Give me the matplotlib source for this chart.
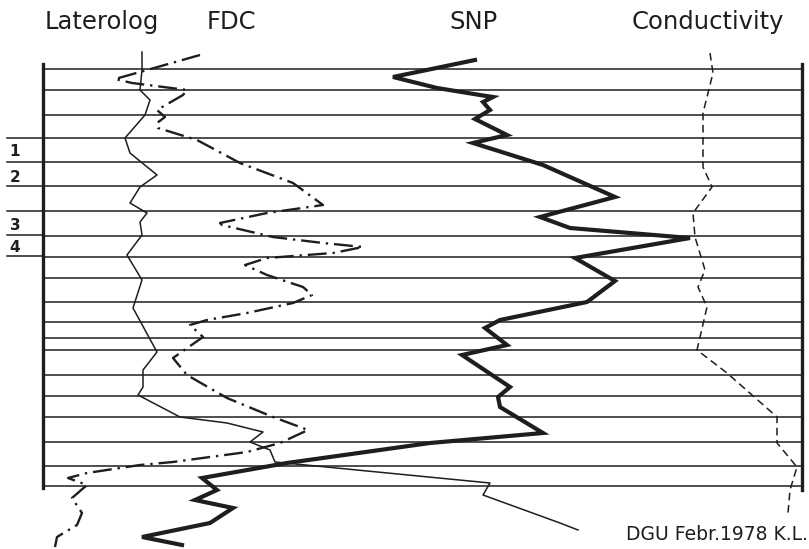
import matplotlib.pyplot as plt

# Well-log sketch, DGU 1978. Depth runs downwards (image-like units),
# readings are horizontal positions on the common chart frame.

# horizontal reference lines (depth)
grid_depths = [69, 90, 115, 138, 162, 186, 211, 236, 257, 278,
               302, 322, 338, 350, 375, 396, 417, 442, 466, 486]
marked_depths = [138, 162, 186, 211, 235, 256]
zone_labels = ["1", "2", "3", "4"]
zone_label_depths = [152, 177, 226, 247]

# Laterolog (thin solid)
lat_depth = [52, 70, 90, 100, 115, 138, 153, 175, 187, 203, 213, 222, 235,
             255, 280, 308, 352, 370, 387, 395, 417, 423, 432, 442, 450,
             462, 483, 495, 523, 530]
lat_value = [142, 142, 140, 150, 145, 125, 130, 157, 140, 130, 147, 140, 142,
             127, 142, 133, 157, 143, 143, 138, 180, 227, 263, 250, 270,
             275, 490, 483, 560, 578]

# FDC (dash-dot)
fdc_depth = [55, 72, 79, 83, 90, 95, 110, 117, 123, 128, 140, 163, 183, 205,
             213, 223, 225, 237, 243, 247, 253, 258, 265, 275, 287, 295, 303,
             313, 320, 325, 337, 358, 375, 398, 417, 430, 443, 452, 462, 465,
             473, 478, 485, 498, 513, 525, 537, 547]
fdc_value = [200, 140, 115, 132, 187, 183, 157, 165, 157, 158, 197, 240, 293,
             323, 267, 220, 222, 273, 323, 363, 333, 267, 245, 267, 303, 312,
             293, 247, 207, 190, 203, 173, 187, 227, 273, 308, 280, 247, 173,
             140, 87, 68, 87, 72, 82, 77, 57, 55]

# SNP (thick solid)
snp_depth = [60, 77, 88, 95, 97, 102, 110, 119, 135, 143, 165, 197, 217, 228,
             238, 258, 281, 302, 320, 328, 345, 355, 387, 397, 407, 433, 443,
             463, 478, 490, 500, 508, 523, 537, 545]
snp_value = [475, 393, 437, 480, 493, 483, 490, 475, 507, 473, 543, 615, 540,
             570, 690, 575, 615, 587, 500, 485, 507, 462, 510, 498, 500, 543,
             430, 287, 202, 217, 195, 233, 210, 142, 182]

# Conductivity (dashed)
con_depth = [53, 73, 113, 167, 187, 213, 237, 270, 287, 307, 350, 373, 417,
             443, 467, 490, 513]
con_value = [710, 713, 703, 703, 712, 693, 695, 705, 698, 707, 697, 727, 777,
             777, 797, 790, 788]

titles = ["Laterolog", "FDC", "SNP", "Conductivity"]
title_pos = [102, 231, 474, 708]

ink = "#1e1e1e"

fig = plt.figure(figsize=(8.09, 5.49), dpi=100)
ax = fig.add_axes([0, 0, 1, 1])
ax.set_xlim(0, 809)
ax.set_ylim(549, 0)
ax.axis("off")

# chart frame and reference lines
for d in grid_depths:
    ax.plot([43, 802], [d, d], color=ink, lw=1.1, solid_capstyle="butt")
for d in marked_depths:
    ax.plot([7, 43], [d, d], color=ink, lw=1.1)
ax.plot([43, 43], [64, 488], color=ink, lw=2.4)
ax.plot([802, 802], [64, 490], color=ink, lw=2.4)

for lab, d in zip(zone_labels, zone_label_depths):
    ax.text(15, d, lab, ha="center", va="center", fontsize=11,
            fontweight="bold", color=ink)

# curves
ax.plot(lat_value, lat_depth, color=ink, lw=1.1)
ax.plot(fdc_value, fdc_depth, color=ink, lw=1.7,
        dashes=(8, 2.5, 1, 2.5))
ax.plot(snp_value, snp_depth, color=ink, lw=3.0, solid_joinstyle="miter")
ax.plot(con_value, con_depth, color=ink, lw=1.1, dashes=(5, 3))

for t, x in zip(titles, title_pos):
    ax.text(x, 22, t, ha="center", va="center", fontsize=17.5, color=ink)

ax.text(808, 535, "DGU Febr.1978 K.L.", ha="right", va="center",
        fontsize=13.5, color=ink)

fig.savefig("out.png", dpi=100)
